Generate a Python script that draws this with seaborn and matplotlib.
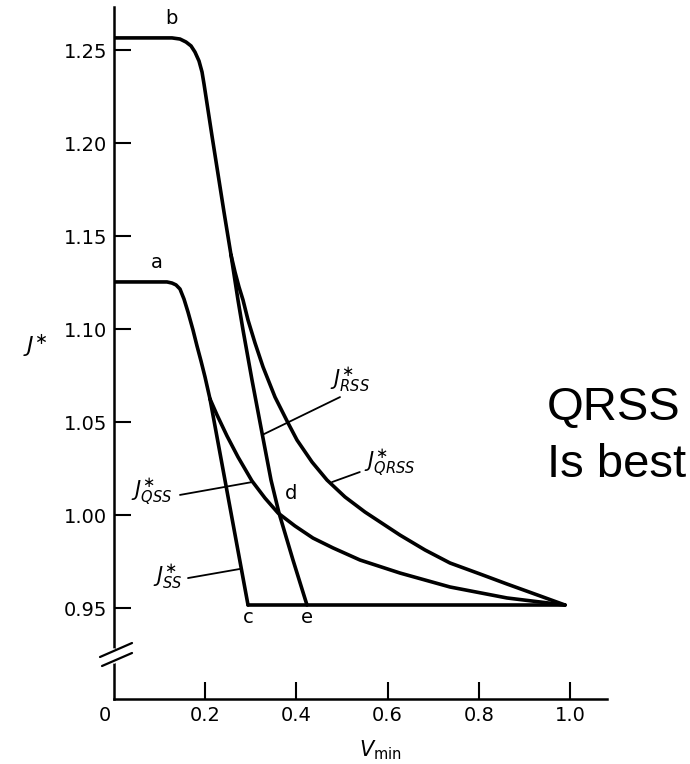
import matplotlib
matplotlib.use("Agg")
import matplotlib.pyplot as plt
import matplotlib.transforms as mtransforms
import seaborn as sns
import pandas as pd

# ---------------- data ----------------
# upper trunk (point b) shared by J*_RSS and J*_QRSS
b_v = [0.0, 0.1272, 0.1447, 0.1579, 0.1689, 0.1776, 0.1864, 0.1930, 0.1974, 0.2018,
       0.2149, 0.2281, 0.2412, 0.2566]
b_J = [1.2565, 1.2565, 1.2559, 1.2543, 1.2522, 1.2489, 1.2441, 1.2382, 1.2317, 1.2247,
       1.2038, 1.1833, 1.1629, 1.1398]

rss_v = [0.2566, 0.2610, 0.2719, 0.2829, 0.3026, 0.3246, 0.3443, 0.3618, 0.3925, 0.4232]
rss_J = [1.1398, 1.1328, 1.1156, 1.0995, 1.0726, 1.0441, 1.0188, 1.0011, 0.9758, 0.9516]

qrss_v = [0.2566, 0.2654, 0.2741, 0.2829, 0.2939, 0.3092, 0.3268, 0.3531, 0.3816, 0.4013,
          0.4342, 0.4671, 0.5066, 0.5504, 0.6272, 0.6820, 0.7368, 0.8026, 0.8618, 0.9342,
          0.9890]
qrss_J = [1.1398, 1.1306, 1.1226, 1.1156, 1.1048, 1.0925, 1.0796, 1.0634, 1.0495, 1.0403,
          1.0285, 1.0188, 1.0097, 1.0016, 0.9892, 0.9812, 0.9742, 0.9683, 0.9629, 0.9565,
          0.9516]

# lower trunk (point a) shared by J*_SS and J*_QSS
a_v = [0.0, 0.1162, 0.1272, 0.1360, 0.1447, 0.1535, 0.1623, 0.1732, 0.1820, 0.1908,
       0.1996, 0.2105]
a_J = [1.1253, 1.1253, 1.1247, 1.1237, 1.1215, 1.1161, 1.1091, 1.0995, 1.0909, 1.0828,
       1.0742, 1.0624]

ss_v = [0.2105, 0.2939]
ss_J = [1.0624, 0.9516]

qss_v = [0.2105, 0.2259, 0.2478, 0.2719, 0.3026, 0.3311, 0.3596, 0.3969, 0.4364, 0.4803,
         0.5395, 0.6272, 0.7368, 0.8618, 0.9890]
qss_J = [1.0624, 1.0538, 1.0425, 1.0312, 1.0183, 1.0091, 1.0011, 0.9941, 0.9876, 0.9823,
         0.9758, 0.9688, 0.9613, 0.9554, 0.9516]

base_v = [0.2939, 0.9890]
base_J = [0.9516, 0.9516]

x_ticks = [0.0, 0.2, 0.4, 0.6, 0.8, 1.0]
x_ticklabels = ["0", "0.2", "0.4", "0.6", "0.8", "1.0"]
y_ticks = [0.95, 1.00, 1.05, 1.10, 1.15, 1.20, 1.25]
y_ticklabels = ["0.95", "1.00", "1.05", "1.10", "1.15", "1.20", "1.25"]

# ---------------- style ----------------
sns.set_style("ticks")
plt.rcParams["font.family"] = ["DejaVu Sans"]
plt.rcParams["mathtext.fontset"] = "dejavusans"
plt.rcParams["text.color"] = "black"

fig = plt.figure(figsize=(6.9, 7.64), dpi=100)
fig.patch.set_facecolor("white")
ax = fig.add_axes([114 / 690, 1 - 699 / 764, 493 / 690, 692 / 764])
ax.set_facecolor("white")

LW = 2.6
curves = [(b_v, b_J), (rss_v, rss_J), (qrss_v, qrss_J),
          (a_v, a_J), (ss_v, ss_J), (qss_v, qss_J), (base_v, base_J)]
for vv, jj in curves:
    df = pd.DataFrame({"v": vv, "J": jj})
    sns.lineplot(data=df, x="v", y="J", ax=ax, sort=False, estimator=None,
                 color="black", linewidth=LW, solid_capstyle="round",
                 solid_joinstyle="round")

ax.set_xlim(0, 1.0811)
ax.set_ylim(0.90108, 1.27312)
ax.set_xlabel("")
ax.set_ylabel("")

for s in ["top", "right"]:
    ax.spines[s].set_visible(False)
for s in ["left", "bottom"]:
    ax.spines[s].set_linewidth(1.8)
    ax.spines[s].set_color("black")

ax.set_xticks(x_ticks)
ax.set_xticklabels(x_ticklabels)
ax.set_yticks(y_ticks)
ax.set_yticklabels(y_ticklabels)
ax.tick_params(axis="both", direction="in", length=12, width=1.5,
               labelsize=14, colors="black")
ax.tick_params(axis="x", pad=5)
ax.tick_params(axis="y", pad=5)
# shift "0" slightly left as in the original
lab0 = ax.get_xticklabels()[0]
lab0.set_transform(lab0.get_transform() +
                   mtransforms.ScaledTranslation(-9 / 100, 0, fig.dpi_scale_trans))
ax.xaxis.get_major_ticks()[0].tick1line.set_visible(False)

# axis break on y-axis
ax.plot([0, 0], [0.9216, 0.9269], color="white", lw=4, clip_on=False, zorder=5)
ax.plot([-0.0307, 0.0395], [0.92366, 0.93118], color="black", lw=1.6, clip_on=False, zorder=6)
ax.plot([-0.0263, 0.0395], [0.91882, 0.92581], color="black", lw=1.6, clip_on=False, zorder=6)

# leader lines
LL = 1.3
ax.plot([0.3246, 0.4956], [1.0430, 1.0634], color="black", lw=LL)
ax.plot([0.4780, 0.5390], [1.0177, 1.0231], color="black", lw=LL)
ax.plot([0.1447, 0.3026], [1.0108, 1.0177], color="black", lw=LL)
ax.plot([0.1623, 0.2763], [0.9661, 0.9710], color="black", lw=LL)

# curve labels
tk = dict(color="black", ha="center", va="center")
ax.text(0.5175, 1.0726, r"$J^{\ast}_{RSS}$", fontsize=15, **tk)
ax.text(0.6050, 1.0280, r"$J^{\ast}_{QRSS}$", fontsize=15, **tk)
ax.text(0.0830, 1.0124, r"$J^{\ast}_{QSS}$", fontsize=15, **tk)
ax.text(0.1180, 0.9665, r"$J^{\ast}_{SS}$", fontsize=15, **tk)

ax.text(0.125, 1.2672, "b", fontsize=14, **tk)
ax.text(0.094, 1.1355, "a", fontsize=14, **tk)
ax.text(0.294, 0.9450, "c", fontsize=14, **tk)
ax.text(0.423, 0.9450, "e", fontsize=14, **tk)
ax.text(0.388, 1.0115, "d", fontsize=14, **tk)

# axis titles
fig.text(35 / 690, 1 - 346 / 764, r"$J^{\ast}$", fontsize=16, ha="center", va="center",
         color="black")
fig.text(380 / 690, 1 - 750 / 764, r"$V_{\rm min}$", fontsize=15, ha="center", va="center",
         color="black")

# annotation
fig.text(547 / 690, 1 - 420 / 764, "QRSS", fontsize=34, family="Liberation Sans",
         ha="left", va="baseline", color="black")
fig.text(547 / 690, 1 - 477 / 764, "Is best", fontsize=34, family="Liberation Sans",
         ha="left", va="baseline", color="black")

fig.savefig("out.png", dpi=100, facecolor="white")
